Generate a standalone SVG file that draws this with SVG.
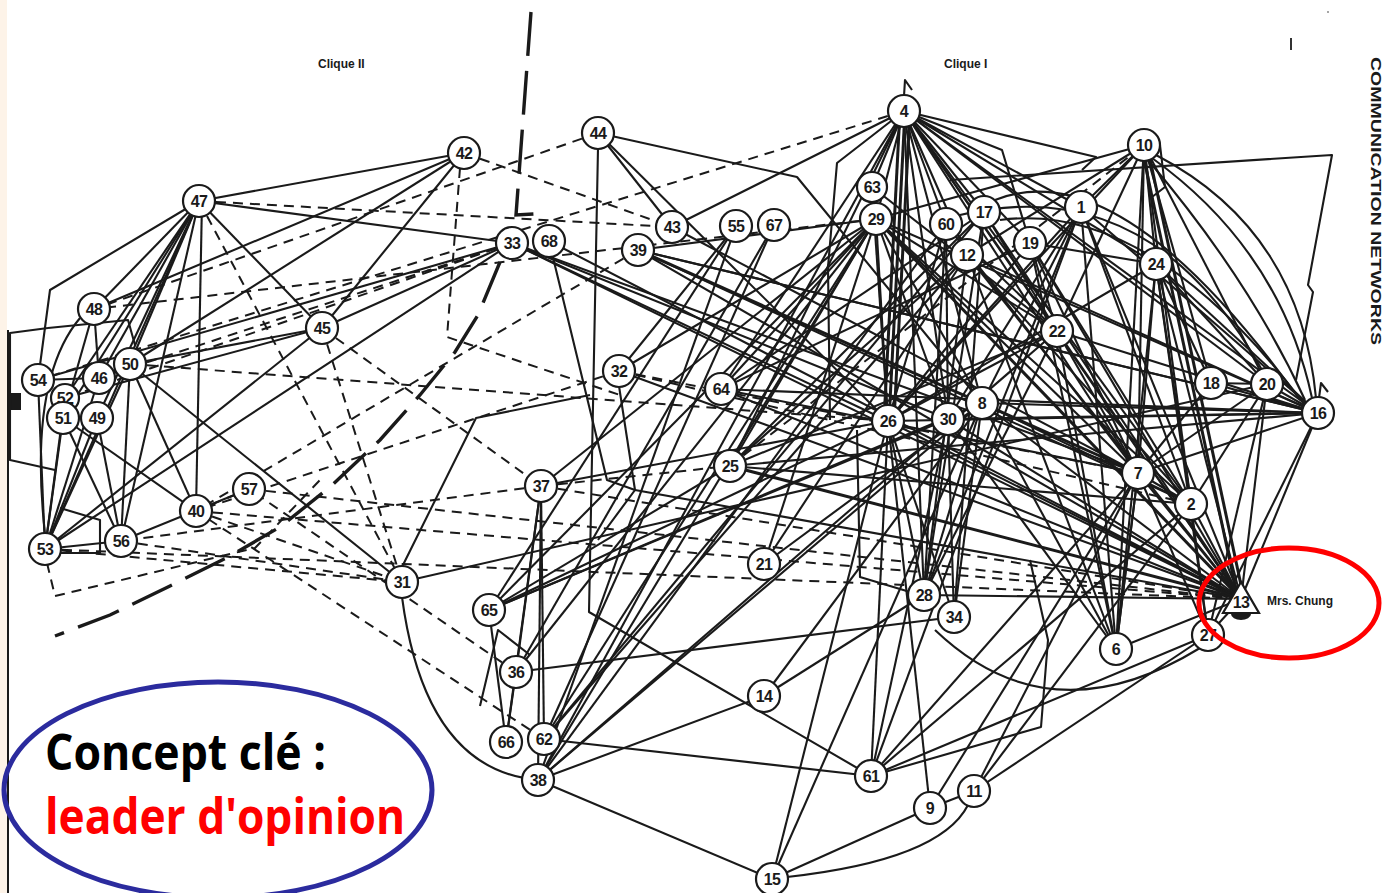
<svg xmlns="http://www.w3.org/2000/svg" width="1387" height="893" viewBox="0 0 1387 893">
<style>
.s{fill:none;stroke:#1a1a1a;stroke-width:2.1;stroke-linejoin:round}
.t{fill:none;stroke:#1a1a1a;stroke-width:3}
.d{fill:none;stroke:#1a1a1a;stroke-width:2;stroke-dasharray:10 7}
.bd{fill:none;stroke:#1a1a1a;stroke-width:3.4;stroke-dasharray:44 15}
.node circle{fill:#fff;stroke:#1a1a1a;stroke-width:2.2}
.node text{font-family:"Liberation Sans",Arial,sans-serif;font-weight:bold;font-size:16px;fill:#1a1a1a;text-anchor:middle;dominant-baseline:central;letter-spacing:-0.6px}
.lab{font-family:"Liberation Sans",Arial,sans-serif;font-weight:bold;fill:#1a1a1a}
</style>
<rect width="1387" height="893" fill="#fff"/>
<rect x="0" y="0" width="7" height="893" fill="#fdf3e8"/>
<line x1="8" y1="330" x2="8" y2="893" stroke="#1a1a1a" stroke-width="2"/>
<rect x="7" y="393" width="14" height="17" fill="#1a1a1a"/>
<line x1="1291" y1="38" x2="1291" y2="50" stroke="#333" stroke-width="2"/>
<circle cx="1328" cy="12" r="1" fill="#888"/>

<g id="connectors">
<path class="bd" d="M531,12 L516,215 L534,214"/>
<path class="bd" d="M500,262 L478,315 L455,352 L420,395 L380,440 L330,487 L280,527 L230,556 L170,586 L110,615 L55,636"/>
<path class="s" d="M199,201 L464,153"/>
<path class="s" d="M199,201 L94,309"/>
<path class="s" d="M199,201 L50,290 L38,380"/>
<path class="s" d="M199,201 L130,364"/>
<path class="s" d="M199,201 L99,378"/>
<path class="s" d="M199,201 L65,398"/>
<path class="s" d="M199,201 L63,418"/>
<path class="s" d="M199,201 L97,418"/>
<path class="s" d="M199,201 L45,549"/>
<path class="s" d="M199,201 L121,541"/>
<path class="s" d="M202,201 L196,511"/>
<path class="s" d="M199,201 L322,328"/>
<path class="s" d="M199,201 L512,243"/>
<path class="s" d="M464,153 L322,328"/>
<path class="s" d="M464,153 L94,309"/>
<path class="s" d="M464,153 L130,364"/>
<path class="s" d="M322,328 L130,364"/>
<path class="s" d="M322,328 L45,549"/>
<path class="s" d="M322,328 L512,243"/>
<path class="s" d="M322,328 L65,398"/>
<path class="s" d="M94,309 L99,378"/>
<path class="s" d="M94,309 L63,418"/>
<path class="s" d="M80,318 Q28,380 45,534"/>
<path class="s" d="M38,380 L99,378"/>
<path class="s" d="M38,380 L45,549"/>
<path class="s" d="M38,380 L512,243"/>
<path class="s" d="M99,378 L130,364"/>
<path class="s" d="M99,378 L45,549"/>
<path class="s" d="M130,364 L45,549"/>
<path class="s" d="M130,364 L121,541"/>
<path class="s" d="M130,364 L196,511"/>
<path class="s" d="M130,364 L402,582"/>
<path class="s" d="M97,418 L45,549"/>
<path class="s" d="M97,418 L121,541"/>
<path class="s" d="M63,418 L45,549"/>
<path class="s" d="M63,418 L121,541"/>
<path class="s" d="M63,418 L196,511"/>
<path class="s" d="M65,398 L45,549"/>
<path class="s" d="M45,549 L121,541"/>
<path class="s" d="M45,549 L512,243"/>
<path class="s" d="M121,541 L249,489"/>
<path class="s" d="M60,553 L100,553 L100,520 L60,508"/>
<path class="s" d="M48,328 L10,333 L10,460 L55,470"/>
<path class="s" d="M48,328 L128,320 L135,345"/>
<path class="s" d="M402,597 Q425,770 538,780"/>
<path class="s" d="M402,567 L476,418 L590,395"/>
<path class="s" d="M598,148 L589,612 L871,776"/>
<path class="s" d="M598,133 L797,177 L982,403"/>
<path class="s" d="M598,133 L672,227"/>
<path class="s" d="M598,133 L888,421"/>
<path class="s" d="M672,227 L904,111"/>
<path class="s" d="M672,227 L1138,473"/>
<path class="s" d="M512,243 L1241,599"/>
<path class="s" d="M512,243 L888,421"/>
<path class="s" d="M512,243 L948,419"/>
<path class="s" d="M512,243 L1138,473"/>
<path class="s" d="M549,241 L607,480 L635,490"/>
<path class="s" d="M549,241 L1241,599"/>
<path class="s" d="M638,250 L876,219"/>
<path class="t" d="M638,250 L1138,473"/>
<path class="s" d="M638,250 L1191,504"/>
<path class="s" d="M638,250 L1318,413"/>
<path class="s" d="M736,226 L538,780"/>
<path class="s" d="M774,225 L544,739"/>
<path class="s" d="M774,225 L516,672"/>
<path class="s" d="M736,226 L489,610"/>
<path class="s" d="M538,780 L876,219"/>
<path class="s" d="M538,780 L904,111"/>
<path class="s" d="M538,780 L946,224"/>
<path class="s" d="M544,739 L967,255"/>
<path class="s" d="M544,739 L984,212"/>
<path class="s" d="M489,610 L876,219"/>
<path class="s" d="M489,610 L730,466"/>
<path class="s" d="M516,672 L954,617"/>
<path class="s" d="M506,742 L541,486"/>
<path class="s" d="M516,672 L541,486"/>
<path class="s" d="M544,739 L541,486"/>
<path class="s" d="M538,780 L541,486"/>
<path class="s" d="M538,780 L764,696"/>
<path class="s" d="M538,780 L772,879"/>
<path class="s" d="M538,780 L982,403"/>
<path class="s" d="M538,780 L1057,331"/>
<path class="s" d="M506,742 L516,672"/>
<path class="s" d="M489,610 L506,742"/>
<path class="s" d="M480,706 L498,630 L530,655"/>
<path class="s" d="M544,739 L871,776"/>
<path class="s" d="M764,696 L982,403"/>
<path class="s" d="M772,879 L888,421"/>
<path class="s" d="M772,879 L982,403"/>
<path class="s" d="M772,879 L930,808"/>
<path class="s" d="M787,877 Q940,860 968,805"/>
<path class="s" d="M871,776 L1138,473"/>
<path class="s" d="M871,776 L1191,504"/>
<path class="s" d="M871,776 L1208,635"/>
<path class="s" d="M871,776 L1041,727 L1048,640 L1030,560"/>
<path class="s" d="M930,808 L1138,473"/>
<path class="s" d="M974,791 L1191,504"/>
<path class="s" d="M974,791 L1208,635"/>
<path class="s" d="M930,808 L974,791"/>
<path class="s" d="M1116,649 L1138,473"/>
<path class="s" d="M1116,649 L1081,207"/>
<path class="s" d="M1116,649 L1156,264"/>
<path class="s" d="M1116,649 L1057,331"/>
<path class="s" d="M1116,649 L1030,243"/>
<path class="s" d="M1208,635 L1138,473"/>
<path class="s" d="M1208,635 L1156,264"/>
<path class="s" d="M1208,635 L1267,384"/>
<path class="s" d="M1208,635 L1318,413"/>
<path class="s" d="M935,630 Q1050,740 1200,648"/>
<path class="s" d="M619,386 L635,490"/>
<path class="s" d="M619,371 L736,226"/>
<path class="s" d="M541,486 L888,421"/>
<path class="s" d="M489,610 L888,421"/>
<path class="s" d="M489,610 L982,403"/>
<path class="s" d="M489,610 L948,419"/>
<path class="s" d="M402,582 L1267,384"/>
<path class="s" d="M857,430 L860,577 L910,592"/>
<path class="s" d="M598,540 L635,490 L1241,599"/>
<path class="s" d="M876,219 L619,371"/>
<path class="s" d="M876,219 L541,486"/>
<path class="s" d="M876,219 L721,389"/>
<path class="s" d="M876,219 L730,466"/>
<path class="s" d="M876,219 L764,564"/>
<path class="s" d="M876,219 L544,739"/>
<path class="s" d="M876,219 L516,672"/>
<path class="s" d="M876,219 L888,421"/>
<path class="s" d="M876,219 L948,419"/>
<path class="s" d="M876,219 L982,403"/>
<path class="s" d="M876,219 L1057,331"/>
<path class="s" d="M876,219 L1138,473"/>
<path class="s" d="M876,219 L1191,504"/>
<path class="s" d="M904,111 L872,187"/>
<path class="s" d="M904,111 L876,219"/>
<path class="s" d="M904,111 L946,224"/>
<path class="s" d="M904,111 L967,255"/>
<path class="s" d="M904,111 L984,212"/>
<path class="s" d="M904,111 L1081,207"/>
<path class="s" d="M904,111 L1156,264"/>
<path class="s" d="M904,111 L1057,331"/>
<path class="t" d="M900,111 L884,421"/>
<path class="t" d="M905,111 L889,421"/>
<path class="t" d="M910,111 L894,421"/>
<path class="s" d="M904,111 L948,419"/>
<path class="s" d="M904,111 L982,403"/>
<path class="s" d="M904,111 L1138,473"/>
<path class="s" d="M904,111 L1191,504"/>
<path class="s" d="M904,111 L1241,599"/>
<path class="s" d="M904,111 L1318,413"/>
<path class="s" d="M904,111 L1267,384"/>
<path class="s" d="M904,111 L924,595"/>
<path class="s" d="M904,111 L1030,243"/>
<path class="s" d="M904,111 L721,389"/>
<path class="s" d="M904,111 L730,466"/>
<path class="s" d="M904,111 L837,163 L828,267 L830,420"/>
<path class="s" d="M904,111 L1002,150 L1030,243"/>
<path class="s" d="M904,111 L1096,157 L1082,170"/>
<path class="s" d="M1144,145 L1081,207"/>
<path class="s" d="M1144,145 L1156,264"/>
<path class="s" d="M1144,145 L1057,331"/>
<path class="s" d="M1144,145 L1138,473"/>
<path class="t" d="M1141,145 L1238,599"/>
<path class="t" d="M1147,145 L1244,599"/>
<path class="s" d="M1144,145 L1267,384"/>
<path class="s" d="M1144,145 L967,255"/>
<path class="s" d="M1144,145 L876,219"/>
<path class="s" d="M1144,145 L1191,504"/>
<path class="s" d="M1144,145 L1116,649"/>
<path class="s" d="M1144,145 L888,421"/>
<path class="s" d="M1144,145 L1211,383"/>
<path class="s" d="M1152,158 Q1280,250 1312,398"/>
<path class="s" d="M1156,155 Q1300,230 1316,398"/>
<path class="s" d="M1148,160 Q1250,280 1305,400"/>
<path class="s" d="M1160,145 L1165,187 L1152,197"/>
<path class="s" d="M950,180 L1332,155 L1308,285 L1313,292 L1296,380"/>
<path class="s" d="M995,200 Q1120,150 1300,400"/>
<path class="s" d="M960,215 Q1150,170 1262,370"/>
<path class="s" d="M1000,220 Q1150,200 1305,405"/>
<path class="s" d="M1318,413 L876,219"/>
<path class="s" d="M1318,413 L638,250"/>
<path class="s" d="M1318,413 L888,421"/>
<path class="s" d="M1318,413 L948,419"/>
<path class="s" d="M1318,413 L982,403"/>
<path class="s" d="M1318,413 L1156,264"/>
<path class="s" d="M1318,413 L1267,384"/>
<path class="s" d="M1318,413 L1211,383"/>
<path class="s" d="M1318,413 L1241,599"/>
<path class="s" d="M1318,413 L1138,473"/>
<path class="s" d="M1318,413 L721,389"/>
<path class="s" d="M1318,413 L1081,207"/>
<path class="s" d="M1318,413 L967,255"/>
<path class="s" d="M1318,413 L1057,331"/>
<path class="s" d="M1318,413 L730,466"/>
<path class="t" d="M1241,599 L876,219"/>
<path class="s" d="M1241,599 L638,250"/>
<path class="s" d="M1241,599 L721,389"/>
<path class="t" d="M1241,599 L730,466"/>
<path class="s" d="M1241,599 L888,421"/>
<path class="s" d="M1241,599 L948,419"/>
<path class="s" d="M1241,599 L982,403"/>
<path class="s" d="M1241,599 L967,255"/>
<path class="s" d="M1241,599 L984,212"/>
<path class="s" d="M1241,599 L1030,243"/>
<path class="s" d="M1241,599 L1156,264"/>
<path class="s" d="M1241,599 L1081,207"/>
<path class="s" d="M1241,599 L1267,384"/>
<path class="s" d="M1241,599 L1138,473"/>
<path class="s" d="M1241,599 L1191,504"/>
<path class="s" d="M1241,599 L1208,635"/>
<path class="s" d="M1241,599 L1116,649"/>
<path class="s" d="M1241,599 L1057,331"/>
<path class="s" d="M1241,599 L619,371"/>
<path class="s" d="M1241,599 L924,595"/>
<path class="s" d="M872,187 L888,421"/>
<path class="s" d="M872,187 L1057,331"/>
<path class="s" d="M946,224 L888,421"/>
<path class="s" d="M946,224 L948,419"/>
<path class="s" d="M946,224 L924,595"/>
<path class="s" d="M946,224 L1057,331"/>
<path class="s" d="M946,224 L1138,473"/>
<path class="s" d="M967,255 L730,466"/>
<path class="s" d="M967,255 L924,595"/>
<path class="s" d="M967,255 L1191,504"/>
<path class="s" d="M967,255 L1116,649"/>
<path class="s" d="M984,212 L721,389"/>
<path class="s" d="M984,212 L730,466"/>
<path class="s" d="M984,212 L1057,331"/>
<path class="s" d="M984,212 L924,595"/>
<path class="s" d="M984,212 L954,617"/>
<path class="s" d="M1081,207 L888,421"/>
<path class="s" d="M1081,207 L948,419"/>
<path class="s" d="M1081,207 L982,403"/>
<path class="s" d="M1081,207 L924,595"/>
<path class="s" d="M1081,207 L871,776"/>
<path class="s" d="M1081,207 L1191,504"/>
<path class="s" d="M1030,243 L1138,473"/>
<path class="s" d="M1030,243 L1191,504"/>
<path class="s" d="M1030,243 L1156,264"/>
<path class="s" d="M1030,243 L888,421"/>
<path class="s" d="M1030,243 L1057,331"/>
<path class="s" d="M1030,243 L721,389"/>
<path class="s" d="M1156,264 L1138,473"/>
<path class="s" d="M1156,264 L1191,504"/>
<path class="s" d="M1156,264 L888,421"/>
<path class="s" d="M1156,264 L1267,384"/>
<path class="s" d="M1156,264 L1211,383"/>
<path class="s" d="M1057,331 L1138,473"/>
<path class="s" d="M1057,331 L924,595"/>
<path class="s" d="M1057,331 L730,466"/>
<path class="s" d="M1057,331 L888,421"/>
<path class="s" d="M982,403 L924,595"/>
<path class="s" d="M982,403 L954,617"/>
<path class="s" d="M982,403 L764,564"/>
<path class="s" d="M982,403 L1116,649"/>
<path class="s" d="M982,403 L1191,504"/>
<path class="s" d="M948,419 L954,617"/>
<path class="s" d="M948,419 L871,776"/>
<path class="s" d="M948,419 L1116,649"/>
<path class="s" d="M888,421 L954,617"/>
<path class="s" d="M888,421 L924,595"/>
<path class="s" d="M888,421 L930,808"/>
<path class="s" d="M888,421 L871,776"/>
<path class="s" d="M1138,473 L1116,649"/>
<path class="s" d="M1138,473 L1191,504"/>
<path class="s" d="M1138,473 L974,791"/>
<path class="s" d="M1191,504 L1208,635"/>
<path class="s" d="M1211,383 L1267,384"/>
<path class="s" d="M1267,384 L1191,504"/>
<path class="s" d="M1267,384 L1138,473"/>
<path class="s" d="M1211,383 L1138,473"/>
<path class="s" d="M924,595 L764,696"/>
<path class="s" d="M721,389 L1138,473"/>
<path class="s" d="M730,466 L1191,504"/>
<path class="s" d="M764,564 L967,255"/>
<path class="d" d="M199,201 L672,227"/>
<path class="d" d="M199,201 L402,582"/>
<path class="d" d="M322,328 L402,582"/>
<path class="d" d="M322,328 L541,486"/>
<path class="d" d="M598,133 L94,309"/>
<path class="d" d="M904,111 L38,380"/>
<path class="d" d="M464,153 L672,227"/>
<path class="d" d="M460,168 L447,337 L620,395"/>
<path class="d" d="M512,243 L99,378"/>
<path class="d" d="M512,243 L65,398"/>
<path class="d" d="M130,364 L888,421"/>
<path class="d" d="M196,511 L249,489"/>
<path class="d" d="M45,549 L402,582"/>
<path class="d" d="M47,563 L55,596 L255,548 L320,480"/>
<path class="d" d="M121,541 L402,582"/>
<path class="d" d="M196,511 L402,582"/>
<path class="d" d="M196,511 L1241,599"/>
<path class="d" d="M249,489 L1241,599"/>
<path class="d" d="M541,486 L730,466"/>
<path class="d" d="M730,466 L1144,145"/>
<path class="d" d="M541,486 L121,541"/>
<path class="d" d="M619,371 L196,511"/>
<path class="d" d="M619,371 L1138,473"/>
<path class="d" d="M619,371 L1191,504"/>
<path class="d" d="M638,250 L196,511"/>
<path class="d" d="M876,219 L94,309"/>
<path class="d" d="M516,672 L249,489"/>
<path class="d" d="M544,739 L196,511"/>
<path class="d" d="M541,486 L1241,599"/>
<path class="d" d="M45,549 L1241,599"/>
<path class="s" d="M904,96 L905,80 L912,90"/>
<path class="s" d="M1319,398 L1321,383 L1328,392"/>
</g>

<g id="nodes">
<g id="n4" class="node"><circle cx="904" cy="111" r="16"/><text x="904" y="111">4</text></g>
<g id="n10" class="node"><circle cx="1144" cy="145" r="16"/><text x="1144" y="145">10</text></g>
<g id="n63" class="node"><circle cx="872" cy="187" r="15"/><text x="872" y="187">63</text></g>
<g id="n29" class="node"><circle cx="876" cy="219" r="16"/><text x="876" y="219">29</text></g>
<g id="n60" class="node"><circle cx="946" cy="224" r="16"/><text x="946" y="224">60</text></g>
<g id="n17" class="node"><circle cx="984" cy="212" r="16"/><text x="984" y="212">17</text></g>
<g id="n1" class="node"><circle cx="1081" cy="207" r="16"/><text x="1081" y="207">1</text></g>
<g id="n12" class="node"><circle cx="967" cy="255" r="16"/><text x="967" y="255">12</text></g>
<g id="n19" class="node"><circle cx="1030" cy="243" r="16"/><text x="1030" y="243">19</text></g>
<g id="n24" class="node"><circle cx="1156" cy="264" r="16"/><text x="1156" y="264">24</text></g>
<g id="n22" class="node"><circle cx="1057" cy="331" r="16"/><text x="1057" y="331">22</text></g>
<g id="n18" class="node"><circle cx="1211" cy="383" r="16"/><text x="1211" y="383">18</text></g>
<g id="n20" class="node"><circle cx="1267" cy="384" r="16"/><text x="1267" y="384">20</text></g>
<g id="n16" class="node"><circle cx="1318" cy="413" r="16"/><text x="1318" y="413">16</text></g>
<g id="n26" class="node"><circle cx="888" cy="421" r="16"/><text x="888" y="421">26</text></g>
<g id="n30" class="node"><circle cx="948" cy="419" r="16"/><text x="948" y="419">30</text></g>
<g id="n8" class="node"><circle cx="982" cy="403" r="16"/><text x="982" y="403">8</text></g>
<g id="n7" class="node"><circle cx="1138" cy="473" r="16"/><text x="1138" y="473">7</text></g>
<g id="n2" class="node"><circle cx="1191" cy="504" r="16"/><text x="1191" y="504">2</text></g>
<g id="n13" class="node"><polygon points="1241,582 1223,613 1259,613" fill="#fff" stroke="#1a1a1a" stroke-width="2.2"/><path d="M1231,614 A10,6 0 0 0 1251,614 Z" fill="#1a1a1a"/><text x="1241" y="602">13</text></g>
<g id="n6" class="node"><circle cx="1116" cy="649" r="16"/><text x="1116" y="649">6</text></g>
<g id="n27" class="node"><circle cx="1208" cy="635" r="16"/><text x="1208" y="635">27</text></g>
<g id="n28" class="node"><circle cx="924" cy="595" r="16"/><text x="924" y="595">28</text></g>
<g id="n34" class="node"><circle cx="954" cy="617" r="16"/><text x="954" y="617">34</text></g>
<g id="n21" class="node"><circle cx="764" cy="564" r="16"/><text x="764" y="564">21</text></g>
<g id="n25" class="node"><circle cx="730" cy="466" r="16"/><text x="730" y="466">25</text></g>
<g id="n64" class="node"><circle cx="721" cy="389" r="16"/><text x="721" y="389">64</text></g>
<g id="n32" class="node"><circle cx="619" cy="371" r="16"/><text x="619" y="371">32</text></g>
<g id="n37" class="node"><circle cx="541" cy="486" r="16"/><text x="541" y="486">37</text></g>
<g id="n65" class="node"><circle cx="489" cy="610" r="16"/><text x="489" y="610">65</text></g>
<g id="n36" class="node"><circle cx="516" cy="672" r="16"/><text x="516" y="672">36</text></g>
<g id="n66" class="node"><circle cx="506" cy="742" r="16"/><text x="506" y="742">66</text></g>
<g id="n62" class="node"><circle cx="544" cy="739" r="16"/><text x="544" y="739">62</text></g>
<g id="n38" class="node"><circle cx="538" cy="780" r="16"/><text x="538" y="780">38</text></g>
<g id="n14" class="node"><circle cx="764" cy="696" r="16"/><text x="764" y="696">14</text></g>
<g id="n61" class="node"><circle cx="871" cy="776" r="16"/><text x="871" y="776">61</text></g>
<g id="n9" class="node"><circle cx="930" cy="808" r="16"/><text x="930" y="808">9</text></g>
<g id="n11" class="node"><circle cx="974" cy="791" r="16"/><text x="974" y="791">11</text></g>
<g id="n15" class="node"><circle cx="772" cy="879" r="16"/><text x="772" y="879">15</text></g>
<g id="n31" class="node"><circle cx="402" cy="582" r="16"/><text x="402" y="582">31</text></g>
<g id="n40" class="node"><circle cx="196" cy="511" r="16"/><text x="196" y="511">40</text></g>
<g id="n57" class="node"><circle cx="249" cy="489" r="16"/><text x="249" y="489">57</text></g>
<g id="n53" class="node"><circle cx="45" cy="549" r="16"/><text x="45" y="549">53</text></g>
<g id="n56" class="node"><circle cx="121" cy="541" r="16"/><text x="121" y="541">56</text></g>
<g id="n54" class="node"><circle cx="38" cy="380" r="16"/><text x="38" y="380">54</text></g>
<g id="n52" class="node"><circle cx="65" cy="398" r="14"/><text x="65" y="398">52</text></g>
<g id="n51" class="node"><circle cx="63" cy="418" r="16"/><text x="63" y="418">51</text></g>
<g id="n49" class="node"><circle cx="97" cy="418" r="16"/><text x="97" y="418">49</text></g>
<g id="n46" class="node"><circle cx="99" cy="378" r="16"/><text x="99" y="378">46</text></g>
<g id="n50" class="node"><circle cx="130" cy="364" r="16"/><text x="130" y="364">50</text></g>
<g id="n48" class="node"><circle cx="94" cy="309" r="16"/><text x="94" y="309">48</text></g>
<g id="n47" class="node"><circle cx="199" cy="201" r="16"/><text x="199" y="201">47</text></g>
<g id="n45" class="node"><circle cx="322" cy="328" r="16"/><text x="322" y="328">45</text></g>
<g id="n42" class="node"><circle cx="464" cy="153" r="16"/><text x="464" y="153">42</text></g>
<g id="n44" class="node"><circle cx="598" cy="133" r="16"/><text x="598" y="133">44</text></g>
<g id="n43" class="node"><circle cx="672" cy="227" r="16"/><text x="672" y="227">43</text></g>
<g id="n33" class="node"><circle cx="512" cy="243" r="16"/><text x="512" y="243">33</text></g>
<g id="n68" class="node"><circle cx="549" cy="241" r="16"/><text x="549" y="241">68</text></g>
<g id="n39" class="node"><circle cx="638" cy="250" r="16"/><text x="638" y="250">39</text></g>
<g id="n55" class="node"><circle cx="736" cy="226" r="16"/><text x="736" y="226">55</text></g>
<g id="n67" class="node"><circle cx="774" cy="225" r="16"/><text x="774" y="225">67</text></g>
</g>

<g id="labels">
<text class="lab" x="318" y="68" font-size="12">Clique II</text>
<text class="lab" x="944" y="68" font-size="12">Clique I</text>
<text class="lab" x="1267" y="605" font-size="12">Mrs. Chung</text>
<text class="lab" transform="translate(1371,57) rotate(90)" font-size="15" textLength="288" lengthAdjust="spacingAndGlyphs">COMMUNICATION  NETWORKS</text>
</g>

<g id="highlights">
<ellipse cx="1289" cy="603" rx="90" ry="55" fill="none" stroke="#ff0000" stroke-width="5"/>
<ellipse cx="218" cy="790" rx="214" ry="108" fill="none" stroke="#2b2b9e" stroke-width="5"/>
<text x="45" y="770" font-family="'Open Sans','Liberation Sans',sans-serif" font-weight="bold" font-size="50" fill="#000" textLength="281" lengthAdjust="spacingAndGlyphs">Concept clé :</text>
<text x="45" y="834" font-family="'Open Sans','Liberation Sans',sans-serif" font-weight="bold" font-size="50" fill="#ff0000" textLength="360" lengthAdjust="spacingAndGlyphs">leader d'opinion</text>
</g>
</svg>
